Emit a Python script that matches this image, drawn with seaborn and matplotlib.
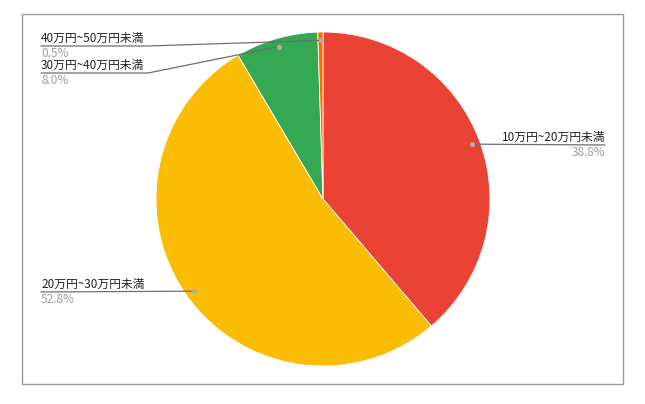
import numpy as np
import matplotlib
matplotlib.use("Agg")
import matplotlib.pyplot as plt
import seaborn as sns

# データ
categories = ["10万円~20万円未満", "20万円~30万円未満", "30万円~40万円未満", "40万円~50万円未満"]
shares = [38.8, 52.8, 8.0, 0.5]
pct_labels = ["38.8%", "52.8%", "8.0%", "0.5%"]
colors = ["#EA4335", "#FBBC04", "#34A853", "#FF6D01"]

sns.set_theme(style="white")
plt.rcParams['font.family'] = ['Noto Sans CJK JP', 'DejaVu Sans']

W, H = 645, 404
fig = plt.figure(figsize=(W / 100, H / 100), dpi=100)
fig.patch.set_facecolor("white")

# 外枠
frame = plt.Rectangle((22 / W, 1 - 384 / H), 601 / W, 370 / H, transform=fig.transFigure,
                      fill=False, edgecolor="#9a9a9a", linewidth=1)
fig.patches.append(frame)

# 円グラフの位置 (ピクセル)
cx, cy, R = 323, 199, 167
ax = fig.add_axes([(cx - R) / W, (H - cy - R) / H, 2 * R / W, 2 * R / H])

wedges, _ = ax.pie(shares, colors=colors, startangle=90, counterclock=False, radius=1,
                   wedgeprops=dict(edgecolor="white", linewidth=0.6))
ax.set_xlim(-1, 1)
ax.set_ylim(-1, 1)
ax.set_aspect("equal")
ax.axis("off")


def px(x, y):
    # ピクセル座標 -> データ座標
    return (x - cx) / R, (cy - y) / R


# 各スライス中央の点
total = sum(shares)
cum = np.cumsum([0] + shares[:-1])
dots = []
for c, s in zip(cum, shares):
    ang = np.deg2rad(90 - (c + s / 2) / total * 360)
    dots.append((0.95 * np.cos(ang), 0.95 * np.sin(ang)))

# ラベル配置 (ピクセル): 線の端, 揃え
layout = [
    dict(line=[(605, 145)], tx=605, ty=145, ha="right"),
    dict(line=[(41, 292)], tx=41, ty=292, ha="left"),
    dict(line=[(41, 73), (148, 73)], tx=41, ty=73, ha="left"),
    dict(line=[(41, 46), (148, 46)], tx=41, ty=46, ha="left"),
]

for i, lay in enumerate(layout):
    pts = [px(*p) for p in lay["line"]] + [dots[i]]
    xs, ys = zip(*pts)
    ax.plot(xs, ys, color="#6e6e6e", linewidth=0.9, clip_on=False, zorder=5)
    ax.plot(*dots[i], "o", color="#b0b0b0", markersize=2.5, clip_on=False, zorder=6)
    tx, ty = px(lay["tx"], lay["ty"] - 1)
    ax.text(tx, ty, categories[i], ha=lay["ha"], va="bottom", fontsize=8.5,
            color="#222222", clip_on=False)
    tx, ty = px(lay["tx"], lay["ty"] + 1)
    ax.text(tx, ty, pct_labels[i], ha=lay["ha"], va="top", fontsize=8.5,
            color="#9e9e9e", clip_on=False)

fig.savefig("out.png", dpi=100)
